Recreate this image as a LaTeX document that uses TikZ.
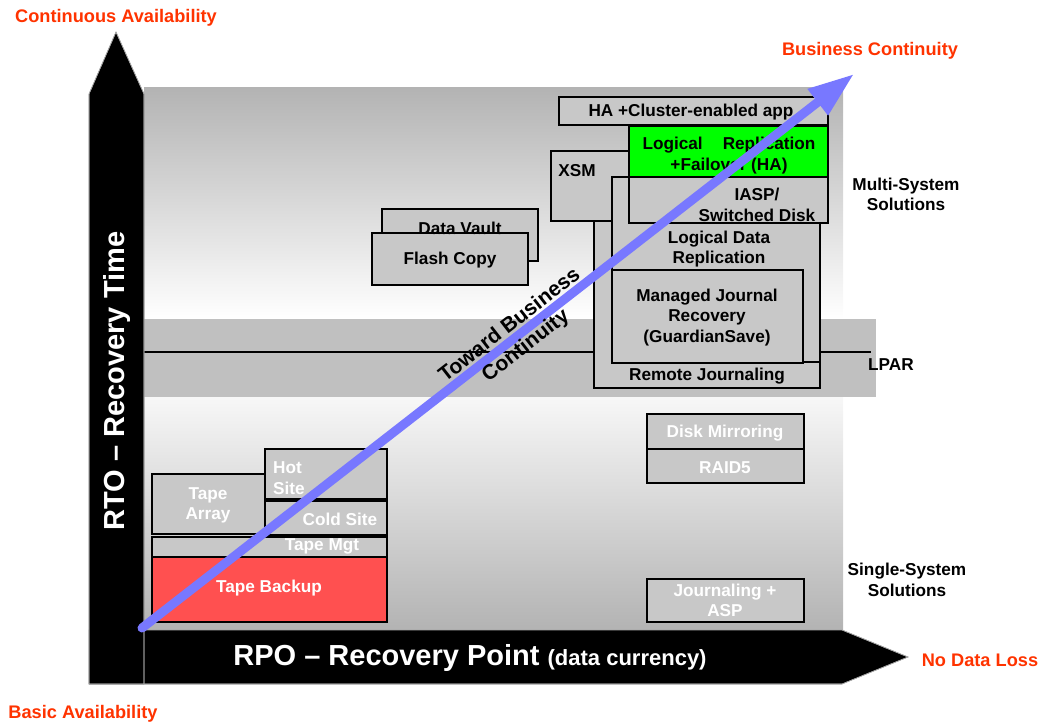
\documentclass[tikz,border=0pt]{standalone}
\usepackage{fontspec}
\setmainfont{Liberation Sans}
\usetikzlibrary{arrows.meta}
\definecolor{boxgray}{RGB}{200,200,200}
\definecolor{bandgray}{RGB}{192,192,192}
\definecolor{panelgray}{RGB}{179,179,179}
\definecolor{hotred}{RGB}{255,80,80}
\definecolor{hagreen}{RGB}{0,255,0}
\definecolor{trendblue}{RGB}{120,120,255}
\definecolor{axisred}{RGB}{255,51,0}
\tikzset{
  pbox/.style={draw=black, line width=1.2pt, fill=boxgray, inner sep=0pt, outer sep=0pt, anchor=north west},
  btxt/.style={font=\fontsize{17.2}{20.5}\selectfont\bfseries, align=center, inner sep=0pt, yshift=-1.5pt},
  wtxt/.style={btxt, text=white},
  rtxt/.style={font=\fontsize{18.2}{21}\selectfont\bfseries, text=axisred, inner sep=0pt, yshift=-1pt},
  axisshape/.style={fill=black, draw=gray!70, line width=0.6pt},
}
\begin{document}
\begin{tikzpicture}[x=1pt,y=-1pt]
\useasboundingbox (0,0) rectangle (1042,723);

% background panel and LPAR band
\shade[top color=panelgray, bottom color=white] (144,87) rectangle (843,319);
\shade[top color=white!97!black, bottom color=panelgray] (144,397) rectangle (843,630);
\fill[bandgray] (144,319) rectangle (876,397);
\coordinate (lparL) at (144,352);
\coordinate (lparR) at (871,352);
\draw[line width=1.2pt] (lparL) -- (lparR);

% axes
\fill[axisshape] (89,630) -- (842,630) -- (908,657) -- (842,684) -- (89,684) -- cycle;
\fill[axisshape] (89,684) -- (89,94) -- (116,32) -- (144,94) -- (144,684) -- cycle;
\draw[gray!70, line width=0.6pt] (89,684) -- (89,94) -- (116,32) -- (144,94) -- (144,684);
\draw[gray!70, line width=0.6pt] (89,684) -- (842,684) -- (908,657) -- (842,630);

\node[font=\fontsize{29}{34}\selectfont\bfseries, text=white, rotate=90, inner sep=0pt] (rto) at (117,381) {RTO -- Recovery Time};
\node[font=\fontsize{29}{34}\selectfont\bfseries, text=white, inner sep=0pt] (rpo) at (470,658) {RPO -- Recovery Point {\fontsize{22}{26}\selectfont (data currency)}};

% multi-system solutions
\node[pbox, minimum width=226pt, minimum height=198pt] (rj) at (594,190) {};
\node[pbox, minimum width=150pt, minimum height=70pt] (xsm) at (551,151) {};
\node[pbox, minimum width=208pt, minimum height=185pt] (ldr) at (612,177) {};
\node[pbox, minimum width=191pt, minimum height=93pt] (mjr) at (612,270) {};
\node[pbox, minimum width=199pt, minimum height=46pt] (iasp) at (629,177) {};
\node[pbox, minimum width=269pt, minimum height=28pt] (ha) at (559,97) {};
\node[pbox, fill=hagreen, minimum width=199pt, minimum height=51pt] (grn) at (629,126) {};

\node[btxt] (rjt) at (707,375) {Remote Journaling};
\node[btxt] (xsmt) at (577,169) {XSM};
\node[btxt] (ldrt) at (719,247.5) {Logical Data\\Replication};
\node[btxt] (mjrt) at (707,316) {Managed Journal\\Recovery\\(GuardianSave)};
\node[btxt] (iaspt) at (757,203.5) {IASP/\\Switched Disk};
\node[btxt] (hat) at (691,111) {HA +Cluster-enabled app};
\node[btxt] (grnt) at (729,154) {Logical\hspace{20pt}Replication\\+Failover (HA)};

% copy services
\node[pbox, minimum width=156pt, minimum height=52pt] (dv) at (382,209) {};
\node[pbox, minimum width=156pt, minimum height=52pt] (fc) at (372,233) {};
\node[btxt] (dvt) at (460,227) {Data Vault};
\node[btxt] (fct) at (450,259) {Flash Copy};

% tape based solutions
\node[pbox, minimum width=113pt, minimum height=60pt] (ta) at (152,474) {};
\node[pbox, minimum width=122pt, minimum height=50pt] (hs) at (265,449) {};
\node[pbox, minimum width=122pt, minimum height=34pt] (cs) at (265,501) {};
\node[pbox, minimum width=235pt, minimum height=20pt] (tm) at (152,537) {};
\node[pbox, fill=hotred, minimum width=235pt, minimum height=65pt] (tb) at (152,557) {};
\node[wtxt] (tat) at (208,504) {Tape\\Array};
\node[wtxt, align=left, anchor=west] (hst) at (273,476.5) {Hot\\Site};
\node[wtxt] (cst) at (340,518) {Cold Site};
\node[wtxt] (tmt) at (322,545) {Tape Mgt};
\node[wtxt] (tbt) at (269,587) {Tape Backup};

% single-system solutions
\node[pbox, minimum width=157pt, minimum height=35pt] (dm) at (647,414) {};
\node[pbox, minimum width=157pt, minimum height=34pt] (r5) at (647,449) {};
\node[pbox, minimum width=157pt, minimum height=43pt] (ja) at (647,579) {};
\node[wtxt] (dmt) at (725,432) {Disk Mirroring};
\node[wtxt] (r5t) at (725,466) {RAID5};
\node[wtxt] (jat) at (725,599) {Journaling +\\ASP};

% side labels
\node[btxt] (multi) at (906,193) {Multi-System\\Solutions};
\node[btxt, anchor=west] (lpar) at (868,363) {LPAR};
\node[btxt] (single) at (907,578.5) {Single-System\\Solutions};

\node[rtxt] (bc) at (870,50) {Business Continuity};
\node[rtxt] (ca) at (116,17) {Continuous Availability};
\node[rtxt] (ba) at (83,713) {Basic Availability};
\node[rtxt] (ndl) at (980,659) {No Data Loss};

% trend arrow
\coordinate (bcstart) at (142,628);
\coordinate (bcend) at (854,74);
\draw[trendblue, line width=9pt, line cap=round, -{Triangle[length=46pt, width=31pt, line cap=butt]}] (bcstart) -- (bcend);
\node[font=\fontsize{21}{26}\selectfont\bfseries, align=center, rotate=37.89, inner sep=0pt] (toward) at (518,336) {Toward Business\\Continuity};
\end{tikzpicture}
\end{document}
